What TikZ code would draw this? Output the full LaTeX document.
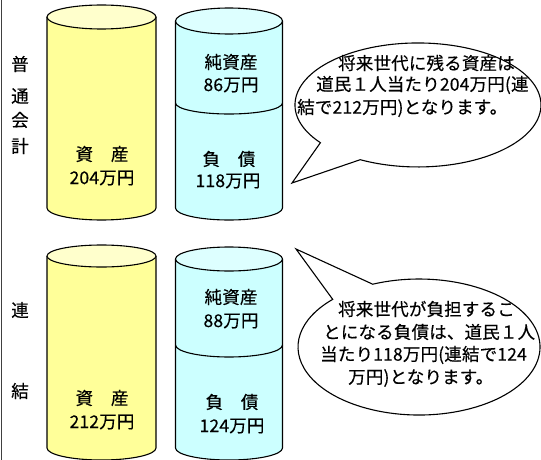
\documentclass[tikz,border=0pt]{standalone}
\usepackage{fontspec}
\newfontfamily\jp[LetterSpace=1,FakeBold=0.4]{Noto Sans CJK JP}
\definecolor{ybody}{HTML}{FFFF99}
\definecolor{ytop}{HTML}{FFFFCC}
\definecolor{cbody}{HTML}{CCFFFF}
\definecolor{ctop}{HTML}{DDFFFF}
\tikzset{
  lbl/.style={font=\jp\fontsize{17.5}{20}\selectfont, inner sep=0pt},
  lnl/.style={lbl, anchor=west},
  outl/.style={draw=black, line width=1.1pt},
}
\begin{document}
\begin{tikzpicture}[x=1pt,y=-1pt]
\useasboundingbox (0,0) rectangle (541,460);
\clip (0,0) rectangle (541,460);
\fill[white] (0,0) rectangle (541,460);
\draw[draw=black!75, line width=1.2pt] (1.5,0) -- (1.5,460);

% Yellow 1
\fill[ybody] (47,17) -- (47,208) arc[start angle=180,end angle=0,x radius=54.5,y radius=12] -- (156,17) -- cycle;
\draw[outl] (47,17) -- (47,208) arc[start angle=180,end angle=0,x radius=54.5,y radius=12] -- (156,17);
\filldraw[outl, fill=ytop] (101.5,17) ellipse[x radius=54.5, y radius=12];
% Cyan 1
\fill[cbody] (175.5,21) -- (175.5,208) arc[start angle=180,end angle=0,x radius=53.5,y radius=12] -- (282.5,21) -- cycle;
\draw[outl] (175.5,21) -- (175.5,208) arc[start angle=180,end angle=0,x radius=53.5,y radius=12] -- (282.5,21);
\draw[outl] (175.5,103) arc[start angle=180,end angle=0,x radius=53.5,y radius=11];
\filldraw[outl, fill=ctop] (229,21) ellipse[x radius=53.5, y radius=13];
% Yellow 2
\fill[ybody] (47,256) -- (47,448) arc[start angle=180,end angle=0,x radius=54.5,y radius=12] -- (156,256) -- cycle;
\draw[outl] (47,256) -- (47,448) arc[start angle=180,end angle=0,x radius=54.5,y radius=12] -- (156,256);
\filldraw[outl, fill=ytop] (101.5,256) ellipse[x radius=54.5, y radius=11];
% Cyan 2
\fill[cbody] (175.5,259) -- (175.5,448) arc[start angle=180,end angle=0,x radius=53.5,y radius=12] -- (282.5,259) -- cycle;
\draw[outl] (175.5,259) -- (175.5,448) arc[start angle=180,end angle=0,x radius=53.5,y radius=12] -- (282.5,259);
\draw[outl] (175.5,345) arc[start angle=180,end angle=0,x radius=53.5,y radius=12];
\filldraw[outl, fill=ctop] (229,259) ellipse[x radius=53.5, y radius=12];

% side labels
\node[lbl] (f1) at (20,64) {普};
\node[lbl] (f2) at (20,96) {通};
\node[lbl] (f3) at (20,120) {会};
\node[lbl] (f4) at (20,146) {計};
\node[lbl] (r1) at (20,310) {連};
\node[lbl] (r2) at (20,391) {結};

% cylinder labels
\node[lbl] (a1) at (102,154) {資　産};
\node[lbl] (a1v) at (102,178) {204万円};
\node[lbl] (n1) at (231,62) {純資産};
\node[lbl] (n1v) at (231,85) {86万円};
\node[lbl] (d1) at (229,159) {負　債};
\node[lbl] (d1v) at (228,181) {118万円};
\node[lbl] (a2) at (102,398) {資　産};
\node[lbl] (a2v) at (102,422) {212万円};
\node[lbl] (n2) at (231,297) {純資産};
\node[lbl] (n2v) at (231,321) {88万円};
\node[lbl] (d2) at (232,402) {負　債};
\node[lbl] (d2v) at (232,426) {124万円};

% callout 1
\coordinate (t1) at (292,183);
\coordinate (s1) at (320.4,142.7);
\filldraw[outl, fill=white, line join=miter] (t1) -- (s1)
  arc[start angle=142.5, end angle=478, x radius=123, y radius=62] -- cycle;
\node[lnl] (c1a) at (338,63) {将来世代に残る資産は};
\node[lnl] (c1b) at (316,85) {道民１人当たり204万円(連};
\node[lnl] (c1c) at (297,108) {結で212万円)となります。};

% callout 2
\coordinate (t2) at (296,249);
\coordinate (s2) at (372.7,284.2);
\filldraw[outl, fill=white, line join=miter] (t2) -- (s2)
  arc[start angle=247.5, end angle=584.5, x radius=121, y radius=68] -- cycle;
\node[lnl] (c2a) at (338,309) {将来世代が負担するこ};
\node[lnl] (c2b) at (323,332) {とになる負債は、道民１人};
\node[lnl] (c2c) at (320,355) {当たり118万円(連結で124};
\node[lnl] (c2d) at (348,378) {万円)となります。};
\end{tikzpicture}
\end{document}
